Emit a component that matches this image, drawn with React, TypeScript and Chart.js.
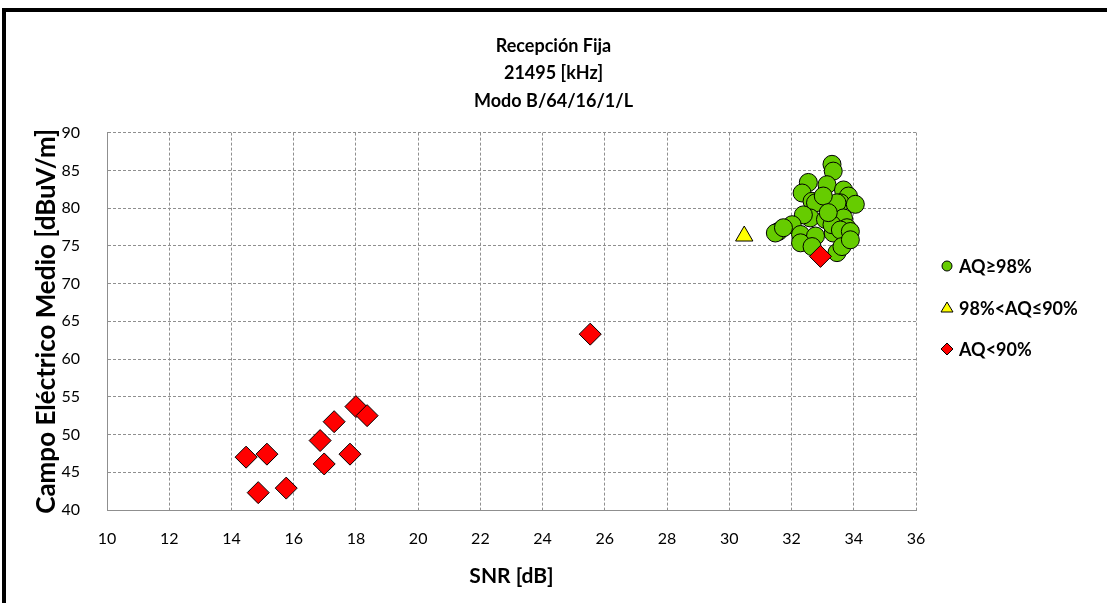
import React, { useEffect, useRef } from "react";
import { Chart, registerables } from "chart.js";

Chart.register(...registerables);

const titleLines = ["Recepción Fija", "21495 [kHz]", "Modo B/64/16/1/L"];
const xTitle = "SNR [dB]";
const yTitle = "Campo Eléctrico Medio [dBuV/m]";
const seriesNames = ["AQ≥98%", "98%<AQ≤90%", "AQ<90%"];

const xMin = 10;
const xMax = 36;
const xStep = 2;
const yMin = 40;
const yMax = 90;
const yStep = 5;

const greenSnr = [
  33.3, 33.34, 33.14, 32.54, 32.34, 32.66, 33.67, 33.83, 33.57, 34.05, 32.77, 33.46,
  33.02, 32.6, 32.38, 33.09, 33.67, 33.78, 32.02, 31.58, 31.48, 31.74, 32.29, 32.77,
  32.29, 32.66, 33.34, 33.3, 33.57, 33.89, 33.46, 33.62, 33.89, 33.18,
];
const greenField = [
  85.8, 84.9, 83.1, 83.4, 82.0, 80.9, 82.4, 81.6, 80.7, 80.5, 80.7, 80.7,
  81.6, 78.7, 79.1, 78.5, 78.7, 77.4, 77.8, 76.9, 76.7, 77.4, 76.5, 76.3,
  75.4, 74.9, 76.7, 77.8, 77.1, 76.9, 74.1, 74.9, 75.8, 79.4,
];
const yellowSnr = [30.48];
const yellowField = [76.3];
const redSnr = [14.47, 14.86, 15.14, 15.76, 16.85, 16.98, 17.3, 17.81, 18.0, 18.36, 25.53, 32.93];
const redField = [47.0, 42.3, 47.4, 42.9, 49.2, 46.1, 51.7, 47.4, 53.7, 52.5, 63.3, 73.6];

const colors = ["#66cc00", "#ffff00", "#ff0000"];
const FONT = "Lato, 'DejaVu Sans', sans-serif";

const toPoints = (xs: number[], ys: number[]) => xs.map((x, i) => ({ x, y: ys[i] }));

const legendPlugin = {
  id: "customLegend",
  afterDraw(chart: any) {
    const ctx = chart.ctx;
    const rows = [266, 308, 349];
    const mx = 947;
    ctx.save();
    ctx.lineWidth = 1;
    ctx.strokeStyle = "#000";
    rows.forEach((cy, i) => {
      ctx.beginPath();
      if (i === 0) {
        ctx.arc(mx, cy, 5, 0, Math.PI * 2);
      } else if (i === 1) {
        ctx.moveTo(mx, cy - 6);
        ctx.lineTo(mx + 6, cy + 4);
        ctx.lineTo(mx - 6, cy + 4);
        ctx.closePath();
      } else {
        ctx.moveTo(mx, cy - 6);
        ctx.lineTo(mx + 6, cy);
        ctx.lineTo(mx, cy + 6);
        ctx.lineTo(mx - 6, cy);
        ctx.closePath();
      }
      ctx.fillStyle = colors[i];
      ctx.fill();
      ctx.stroke();
      ctx.fillStyle = "#000";
      ctx.font = `bold 18px ${FONT}`;
      ctx.textAlign = "left";
      ctx.textBaseline = "middle";
      ctx.fillText(seriesNames[i], 959, cy + 1);
    });
    ctx.restore();
  },
};

export default function App() {
  const ref = useRef<HTMLCanvasElement | null>(null);
  useEffect(() => {
    if (!ref.current) return;
    const gridColor = "#8f8f8f";
    const chart = new Chart(ref.current, {
      type: "scatter",
      data: {
        datasets: [
          {
            label: seriesNames[0],
            data: toPoints(greenSnr, greenField),
            pointStyle: "circle",
            pointRadius: 9,
            pointBackgroundColor: colors[0],
            pointBorderColor: "#000",
            pointBorderWidth: 1,
            order: 3,
          },
          {
            label: seriesNames[1],
            data: toPoints(yellowSnr, yellowField),
            pointStyle: "triangle",
            pointRadius: 10,
            pointBackgroundColor: colors[1],
            pointBorderColor: "#000",
            pointBorderWidth: 1,
            order: 2,
          },
          {
            label: seriesNames[2],
            data: toPoints(redSnr, redField),
            pointStyle: "rectRot",
            pointRadius: 11,
            pointBackgroundColor: colors[2],
            pointBorderColor: "#000",
            pointBorderWidth: 1,
            order: 1,
          },
        ],
      },
      options: {
        animation: false,
        responsive: false,
        devicePixelRatio: 1,
        layout: { padding: { left: 0, right: 0, top: 0, bottom: 0 } },
        plugins: {
          legend: { display: false },
          tooltip: { enabled: false },
          title: {
            display: true,
            text: titleLines,
            color: "#000",
            font: { family: FONT, size: 18, weight: "bold", lineHeight: 1.53 },
            padding: { top: 32, bottom: 18 },
          },
        },
        scales: {
          x: {
            type: "linear",
            min: xMin,
            max: xMax,
            ticks: {
              stepSize: xStep,
              color: "#000",
              font: { family: FONT, size: 16 },
              padding: 19,
            },
            grid: { color: gridColor, drawTicks: false, lineWidth: 1 },
            border: { display: true, color: gridColor, dash: [3, 2] },
            title: {
              display: true,
              text: xTitle,
              color: "#000",
              font: { family: FONT, size: 21, weight: "bold", lineHeight: 1.2 },
              padding: { top: 0, bottom: 14 },
            },
            afterFit(scale: any) {
              scale.height = 93;
            },
          },
          y: {
            type: "linear",
            min: yMin,
            max: yMax,
            ticks: {
              stepSize: yStep,
              color: "#000",
              font: { family: FONT, size: 16 },
              padding: 27,
            },
            grid: { color: gridColor, drawTicks: false, lineWidth: 1 },
            border: { display: true, color: gridColor, dash: [3, 2] },
            title: {
              display: true,
              text: yTitle,
              color: "#000",
              font: { family: FONT, size: 26, weight: "bold", lineHeight: 1.2 },
              padding: { top: 31, bottom: 0 },
            },
            afterFit(scale: any) {
              scale.width = 107;
            },
          },
          spacer: {
            type: "linear",
            position: "right",
            display: true,
            ticks: { display: false },
            grid: { display: false, drawTicks: false },
            border: { display: false },
            afterFit(scale: any) {
              scale.width = 191;
            },
          },
        },
      },
      plugins: [legendPlugin],
    } as any);
    return () => chart.destroy();
  }, []);

  return (
    <div style={{ position: "absolute", left: 0, top: 0, width: 1107, height: 603, background: "#fff" }}>
      <canvas ref={ref} width={1107} height={603} style={{ position: "absolute", left: 0, top: 0 }} />
      <div
        style={{
          position: "absolute",
          left: 2,
          top: 8,
          width: 1120,
          height: 620,
          borderLeft: "4px solid #000",
          borderTop: "4px solid #000",
          pointerEvents: "none",
        }}
      />
    </div>
  );
}
